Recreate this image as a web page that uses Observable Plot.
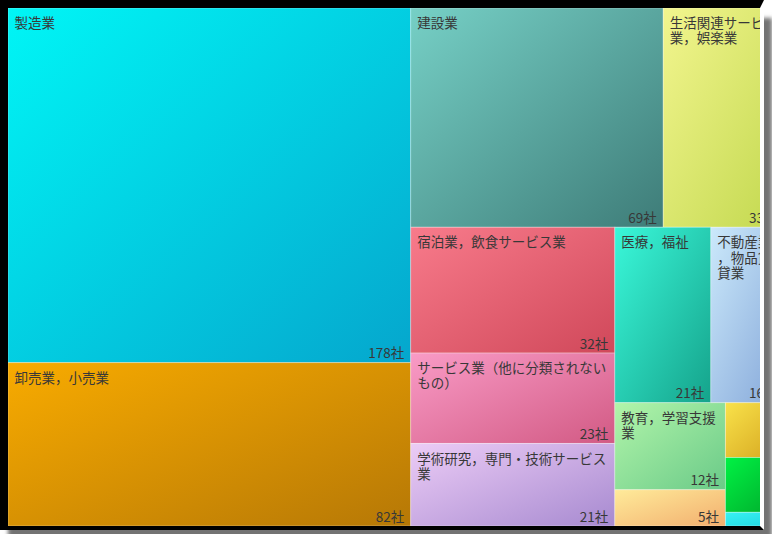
<!DOCTYPE html>
<html><head><meta charset="utf-8">
<script src="https://cdn.jsdelivr.net/npm/d3@7"></script>
<script src="https://cdn.jsdelivr.net/npm/@observablehq/plot@0.6"></script>
<style>
html,body{margin:0;padding:0;background:#fff;}
#frame{position:absolute;left:0;top:0;width:752px;height:518px;border-left:8px solid #000;border-top:8px solid #000;border-bottom:4px solid #000;border-right:4px solid #fff;overflow:hidden;box-shadow:8px 18px 4px rgba(0,0,0,0.55);background:#fff;}
</style></head><body><div id="frame"></div>
<script>
// Data
const industries = ["製造業","卸売業，小売業","建設業","生活関連サービス業，娯楽業","宿泊業，飲食サービス業","サービス業（他に分類されないもの）","学術研究，専門・技術サービス業","医療，福祉","不動産業，物品賃貸業","教育，学習支援業","情報通信業","運輸業，郵便業","農業，林業","金融業，保険業"];
const counts = [178,82,69,33,32,23,21,21,16,12,5,4,4,1];
const unit = "社";
const topColors = ["#00f6f6","#f8ab00","#76d0c6","#f2f58e","#f87b8b","#f99bc6","#ecccf6","#3af8da","#cbe9fb","#b2f5aa","#ffeb9a","#f9e24a","#00f244","#38f2f2"];
const bottomColors = ["#05a6cd","#b67806","#3e7c78","#c2d84e","#d0485a","#d25a84","#a78ad0","#15a38b","#84a6d8","#6aca88","#f2ae6e","#d4a41e","#00a82a","#1ed4e0"];

const W = 776, H = 518;
const root = d3.hierarchy({children: industries.map((name, i) => ({name, value: counts[i], i}))})
  .sum(d => d.value ?? 0)
  .sort((a, b) => b.value - a.value);
d3.treemap().tile(d3.treemapSquarify).size([W, H])(root);

function wrap(name, w) {
  const n = Math.max(1, Math.floor((w - 8) / 13.7));
  const chars = Array.from(name);
  const lines = [];
  for (let k = 0; k < chars.length; k += n) lines.push(chars.slice(k, k + n).join(""));
  return lines.join("\n");
}

const cells = root.leaves().map(n => {
  const w = n.x1 - n.x0, h = n.y1 - n.y0;
  return {
    name: n.data.name, value: n.data.value, i: n.data.i,
    x0: n.x0, x1: n.x1, y0: n.y0, y1: n.y1,
    label: wrap(n.data.name, w),
    showLabel: w >= 60 && h >= 50,
    showValue: w >= 60 && h >= 24
  };
});

const plot = Plot.plot({
  width: W, height: H,
  margin: 0,
  x: {domain: [0, W], range: [0, W], axis: null},
  y: {domain: [0, H], range: [0, H], axis: null},
  style: "max-width:none;background:transparent;overflow:hidden;display:block;",
  marks: [
    Plot.rect(cells, {x1: "x0", x2: "x1", y1: "y0", y2: "y1", fill: "#ccc", stroke: "#ffffff", strokeOpacity: 0.3, strokeWidth: 1, className: "cell"}),
    Plot.text(cells.filter(d => d.showLabel), {x: "x0", y: "y0", text: "label", textAnchor: "start", lineAnchor: "top", dx: 6, dy: 9, lineHeight: 1.12, fontSize: 13.5, fill: "#383838", fontFamily: "'Noto Sans CJK JP', sans-serif"}),
    Plot.text(cells.filter(d => d.showValue), {x: "x1", y: "y1", text: d => d.value + unit, textAnchor: "end", lineAnchor: "bottom", dx: -7, dy: -5, fontSize: 13.5, fill: "#383838", fontFamily: "'Noto Sans CJK JP', sans-serif"})
  ]
});

// gradients
const svg = d3.select(plot);
const defs = svg.insert("defs", ":first-child");
cells.forEach(d => {
  const g = defs.append("linearGradient").attr("id", "grad" + d.i)
    .attr("x1", 0).attr("y1", 0).attr("x2", 1).attr("y2", 1);
  g.append("stop").attr("offset", "0%").attr("stop-color", topColors[d.i]);
  g.append("stop").attr("offset", "100%").attr("stop-color", bottomColors[d.i]);
});
svg.selectAll(".cell rect").each(function(d, k) {
  const c = cells[k];
  d3.select(this).attr("fill", "url(#grad" + c.i + ")");
});
document.getElementById("frame").appendChild(plot);
</script>
</body></html>
